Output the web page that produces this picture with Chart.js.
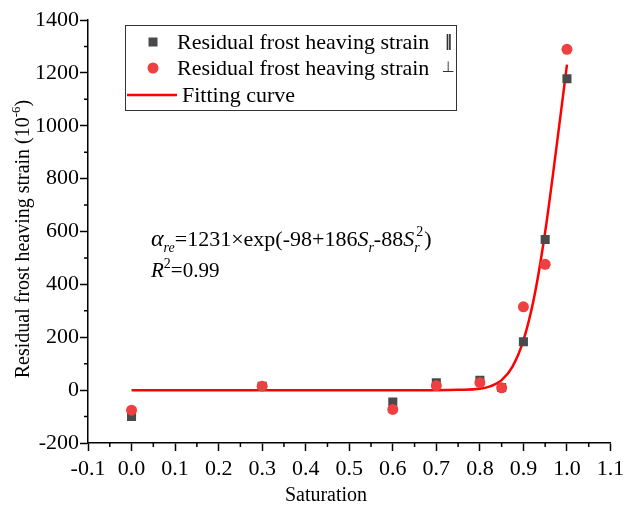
<!DOCTYPE html>
<html lang="en">
  <head>
    <meta charset="UTF-8" />
    <title>Residual frost heaving strain</title>
    <script src="https://cdn.jsdelivr.net/npm/chart.js@4.4.0/dist/chart.umd.min.js"></script>
    <style>
      html, body { margin: 0; padding: 0; background: #fff; }
      canvas { display: block; }
    </style>
  </head>
  <body>
    <canvas id="chart" width="624" height="507"></canvas>

    <script>
      // measured points (saturation -> strain, 10^-6)
      const saturation = [0, 0.3, 0.6, 0.7, 0.8, 0.85, 0.9, 0.95, 1.0];
      const strainParallel = [-100, 15, -45, 28, 37, 10, 183, 570, 1178];
      const strainPerp = [-76, 15, -73, 17, 28, 9, 315, 476, 1289];

      // fitting curve
      const fitSaturation = [0, 0.1, 0.2, 0.3, 0.4, 0.5, 0.6, 0.7, 0.75, 0.8, 0.825, 0.85, 0.875, 0.9, 0.925, 0.95, 0.975, 1.0];
      const fitStrain = [0, 0, 0, 0, 0, 0, 0, 0, 1, 5, 15, 38, 89, 188, 354, 599, 907, 1231];

      const seriesLabels = ["Residual frost heaving strain", "Residual frost heaving strain", "Fitting curve"];
      const seriesMarks = ["\u2016", "\u22A5", ""];

      const FONT = "'Liberation Serif', 'Times New Roman', serif";
      Chart.defaults.font.family = FONT;
      const toPoints = (xs, ys) => xs.map((x, i) => ({ x: x, y: ys[i] }));

      // legend, formula, axis titles and minor ticks
      const extras = {
        id: "extras",
        afterDraw(chart) {
          const ctx = chart.ctx;
          const xs = chart.scales.x;
          const ys = chart.scales.y;
          const ds = chart.data.datasets;
          ctx.save();

          // minor ticks
          ctx.strokeStyle = "#000";
          ctx.lineWidth = 1.5;
          ctx.beginPath();
          for (let v = -100; v < 1400; v += 200) {
            const p = ys.getPixelForValue(v);
            ctx.moveTo(xs.left, p);
            ctx.lineTo(xs.left - 4, p);
          }
          for (let i = -1; i < 22; i += 2) {
            const p = xs.getPixelForValue(i * 0.05);
            ctx.moveTo(p, ys.bottom);
            ctx.lineTo(p, ys.bottom + 4);
          }
          ctx.stroke();

          // legend box
          ctx.lineWidth = 1;
          ctx.strokeStyle = "#333";
          ctx.strokeRect(125.5, 25.5, 331, 85);
          const rows = [42, 68, 95];
          ctx.font = "22px " + FONT;
          ctx.textBaseline = "middle";
          ctx.textAlign = "left";
          ctx.fillStyle = ds[0].backgroundColor;
          ctx.fillRect(148.5, 37.5, 9, 9);
          ctx.fillStyle = ds[1].backgroundColor;
          ctx.beginPath();
          ctx.arc(153, rows[1], 5.5, 0, Math.PI * 2);
          ctx.fill();
          ctx.strokeStyle = ds[2].borderColor;
          ctx.lineWidth = 2.5;
          ctx.beginPath();
          ctx.moveTo(127, rows[2]);
          ctx.lineTo(177, rows[2]);
          ctx.stroke();
          ctx.fillStyle = "#000";
          ctx.fillText(seriesLabels[0], 177, rows[0] + 1);
          ctx.fillText(seriesLabels[1], 177, rows[1] + 1);
          ctx.fillText(seriesLabels[2], 182, rows[2] + 1);
          ctx.fillStyle = "#333";
          ctx.font = "bold 15px 'DejaVu Sans', sans-serif";
          ctx.textAlign = "center";
          ctx.fillText(seriesMarks[0], 448.5, rows[0]);
          ctx.font = "15px 'DejaVu Sans', sans-serif";
          ctx.fillText(seriesMarks[1], 448, rows[1]);
          ctx.fillStyle = "#000";

          // formula
          ctx.textAlign = "left";
          ctx.textBaseline = "alphabetic";
          const big = 22, small = 14;
          let x = 151;
          const base = 246;
          const put = (t, italic, size, dy) => {
            ctx.font = (italic ? "italic " : "") + size + "px " + FONT;
            ctx.fillText(t, x, base + dy);
            return ctx.measureText(t).width;
          };
          x += put("\u03B1", true, big + 2, 0);
          x += put("re", true, small, 6);
          x += put("=1231\u00D7exp(-98+186", false, big, 0);
          x += put("S", true, big, 0);
          x += put("r", true, small, 6);
          x += put("-88", false, big, 0);
          x += put("S", true, big, 0);
          const w1 = put("r", true, small, 6);
          x += 2;
          const w2 = put("2", false, small, -10);
          x += Math.max(w1 - 2, w2) + 1;
          put(")", false, big, 0);

          x = 151;
          const base2 = 277;
          ctx.font = "italic 21px " + FONT;
          ctx.fillText("R", x, base2);
          x += ctx.measureText("R").width;
          ctx.font = "14px " + FONT;
          ctx.fillText("2", x, base2 - 9);
          x += ctx.measureText("2").width;
          ctx.font = "21px " + FONT;
          ctx.fillText("=0.99", x, base2);

          // x title
          ctx.font = "20px " + FONT;
          ctx.textAlign = "center";
          ctx.textBaseline = "middle";
          ctx.fillText("Saturation", 326, 496);

          // y title
          ctx.translate(22, 239);
          ctx.rotate(-Math.PI / 2);
          const main = "Residual frost heaving strain (10";
          ctx.font = "20px " + FONT;
          const wm = ctx.measureText(main).width;
          ctx.font = "13px " + FONT;
          const ws = ctx.measureText("-6").width;
          ctx.font = "20px " + FONT;
          const wc = ctx.measureText(")").width;
          let s = -(wm + ws + wc) / 2;
          ctx.textAlign = "left";
          ctx.textBaseline = "alphabetic";
          ctx.fillText(main, s, 7);
          s += wm;
          ctx.font = "13px " + FONT;
          ctx.fillText("-6", s, -2);
          s += ws;
          ctx.font = "20px " + FONT;
          ctx.fillText(")", s, 7);

          ctx.restore();
        },
      };

      const chart = new Chart(document.getElementById("chart"), {
        type: "scatter",
        data: {
          datasets: [
            {
              label: seriesLabels[0] + " " + seriesMarks[0],
              data: toPoints(saturation, strainParallel),
              pointStyle: "rect",
              pointRadius: 6.4,
              backgroundColor: "#4a4a4a",
              borderWidth: 0,
              order: 2,
            },
            {
              label: seriesLabels[1] + " " + seriesMarks[1],
              data: toPoints(saturation, strainPerp),
              pointStyle: "circle",
              pointRadius: 5.5,
              backgroundColor: "#ee4040",
              borderWidth: 0,
              order: 1,
            },
            {
              label: seriesLabels[2],
              data: toPoints(fitSaturation, fitStrain),
              showLine: true,
              pointRadius: 0,
              borderColor: "#ff0000",
              borderWidth: 2.5,
              cubicInterpolationMode: "monotone",
              order: 3,
            },
          ],
        },
        options: {
          responsive: false,
          animation: false,
          layout: { padding: { top: 20, right: 13.5, left: 0, bottom: 0 } },
          plugins: { legend: { display: false }, tooltip: { enabled: false } },
          scales: {
            x: {
              type: "linear",
              min: -0.1,
              max: 1.1,
              afterFit(scale) {
                scale.height = 64;
                scale.paddingLeft = 0;
                scale.paddingRight = 0;
              },
              ticks: {
                stepSize: 0.1,
                color: "#000",
                padding: 5,
                font: { family: FONT, size: 22 },
                callback: (v) => v.toFixed(1),
              },
              grid: {
                drawOnChartArea: false,
                tickLength: 8,
                tickWidth: 1.5,
                tickColor: "#000",
              },
              border: { color: "#000", width: 1.5 },
            },
            y: {
              min: -200,
              max: 1400,
              afterFit(scale) {
                scale.width = 88;
                scale.paddingTop = 0;
                scale.paddingBottom = 0;
              },
              ticks: {
                stepSize: 200,
                color: "#000",
                padding: 1,
                font: { family: FONT, size: 22 },
                callback: (v) => String(v),
              },
              grid: {
                drawOnChartArea: false,
                tickLength: 8,
                tickWidth: 1.5,
                tickColor: "#000",
              },
              border: { color: "#000", width: 1.5 },
            },
          },
        },
        plugins: [extras],
      });
    </script>
  </body>
</html>
